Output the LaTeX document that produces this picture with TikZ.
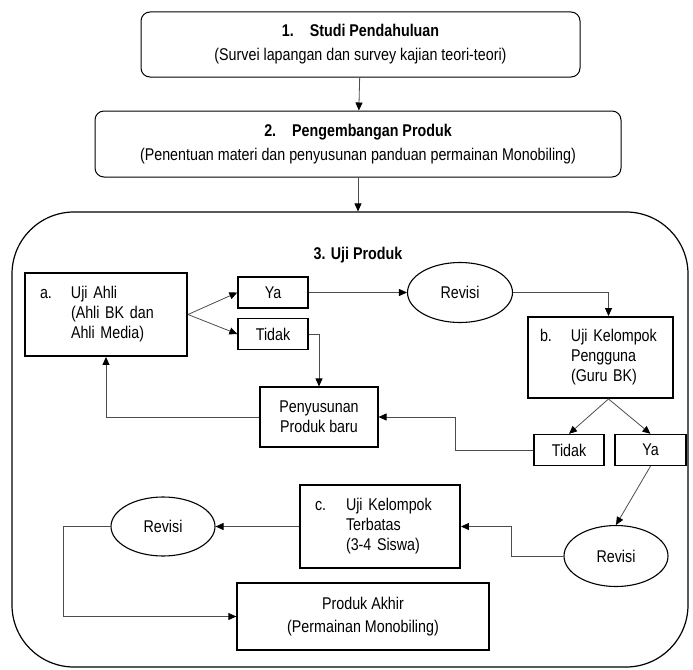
\documentclass[tikz,border=0pt]{standalone}
\usepackage{fontspec}
\setmainfont{Liberation Sans}[FakeStretch=0.84]
\usetikzlibrary{arrows.meta,shapes.geometric}

\newcommand{\butir}[4]{\makebox[31pt][l]{#1}#2\\\hspace*{31pt}#3\\\hspace*{31pt}#4}

\tikzset{
  tahap/.style={draw,line width=1pt,rounded corners=9pt,align=center,inner sep=0pt},
  uji/.style={draw,line width=1.9pt,inner sep=0pt,align=left},
  kotak/.style={draw,line width=1.3pt,inner sep=0pt,align=center},
  revisi/.style={draw,ellipse,line width=1.1pt,inner sep=0pt},
  panah/.style={draw=black!70,line width=0.8pt,-{Triangle[length=8pt,width=7pt,color=black]}},
}

\begin{document}
\begin{tikzpicture}[x=1pt,y=-1pt,every node/.style={font=\fontsize{17}{20}\selectfont}]
\useasboundingbox (0,0) rectangle (693,669);

% tahap 1 dan 2
\node[tahap,minimum width=439pt,minimum height=65pt] (s1) at (360.5,44.5)
  {\textbf{1.\hspace{16pt}Studi Pendahuluan}\\[4pt](Survei lapangan dan survey kajian teori-teori)};
\node[tahap,minimum width=526pt,minimum height=66pt] (s2) at (358,144)
  {\textbf{2.\hspace{16pt}Pengembangan Produk}\\[4pt](Penentuan materi dan penyusunan panduan permainan Monobiling)};

% tahap 3
\node[draw,line width=1.2pt,rounded corners=62pt,minimum width=676pt,minimum height=455pt] (wadah) at (350,439.5) {};
\node (judul3) at (358,255) {\textbf{3. Uji Produk}};

\node[uji,text width=132pt,minimum width=162pt,minimum height=83pt] (a) at (106,314.5)
  {\butir{a.}{Uji Ahli}{(Ahli BK dan}{Ahli Media)}};
\node[kotak,minimum width=70pt,minimum height=31pt] (ya1) at (273,292.5) {Ya};
\node[kotak,minimum width=70pt,minimum height=31pt] (tidak1) at (273,334) {Tidak};
\node[revisi,minimum width=105pt,minimum height=60pt] (rev1) at (460,292.5) {Revisi};
\node[uji,text width=121pt,minimum width=145pt,minimum height=81pt] (b) at (600.5,357.5)
  {\butir{b.}{Uji Kelompok}{Pengguna}{(Guru BK)}};
\node[kotak,line width=1.1pt,minimum width=118pt,minimum height=60pt] (pen) at (319,417) {Penyusunan\\Produk baru};
\node[kotak,minimum width=70pt,minimum height=31pt] (tidak2) at (569,450) {Tidak};
\node[kotak,minimum width=71pt,minimum height=31pt] (ya2) at (650.5,450) {Ya};
\node[uji,text width=130pt,minimum width=160pt,minimum height=83pt] (c) at (380,526.5)
  {\butir{c.}{Uji Kelompok}{Terbatas}{(3-4 Siswa)}};
\node[revisi,minimum width=104pt,minimum height=61pt] (rev2) at (616,556) {Revisi};
\node[revisi,minimum width=104pt,minimum height=59pt] (rev3) at (163,526.5) {Revisi};
\node[kotak,minimum width=252pt,minimum height=67pt] (akhir) at (363,616.5) {Produk Akhir\\[3pt](Permainan Monobiling)};

\coordinate (bmasuk) at ([xshift=8pt]b.north);
\coordinate (bkeluar) at ([xshift=8pt]b.south);

% alur
\draw[panah] (s1) -- (s2);
\draw[panah] (s2) -- (s2.south |- wadah.north);
\draw[panah] (a.east) -- (ya1.west);
\draw[panah] (a.east) -- (tidak1.west);
\draw[panah] (ya1) -- (rev1);
\draw[panah] (rev1.east) -| (bmasuk);
\draw[panah] (bkeluar) -- (tidak2.north);
\draw[panah] (bkeluar) -- (ya2.north);
\draw[panah] (tidak1.east) -| (pen.north);
\draw[panah] (tidak2.west) -- ++(-78,0) |- (pen.east);
\draw[panah] (pen.west) -| (a.south);
\draw[panah] (ya2.south) -- (rev2.north);
\draw[panah] (rev2.west) -- ++(-52,0) |- (c.east);
\draw[panah] (c.west) -- (rev3.east);
\draw[panah] (rev3.west) -- ++(-47,0) |- (akhir.west);
\end{tikzpicture}
\end{document}
